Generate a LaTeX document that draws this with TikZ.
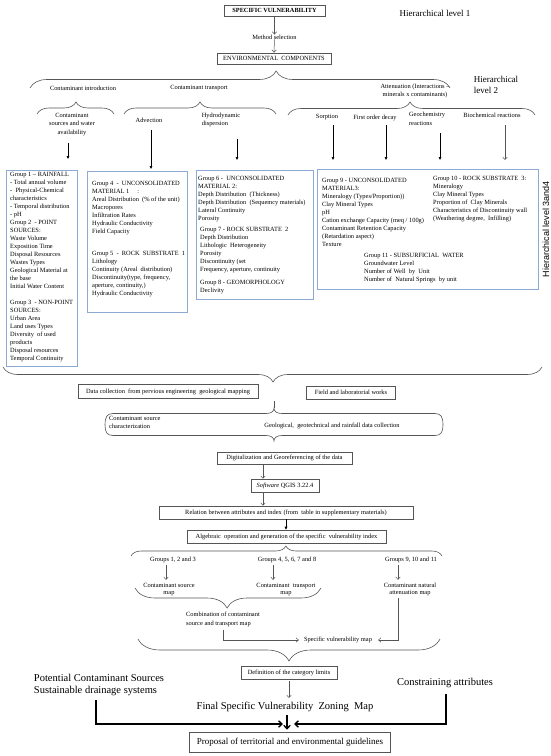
\documentclass[tikz,border=0pt]{standalone}
\usepackage{fontspec}
\setmainfont{Liberation Serif}
\newfontfamily\levelsans{Liberation Sans}
\usetikzlibrary{arrows.meta, positioning, decorations.pathreplacing}
\definecolor{grpblue}{RGB}{140,170,212}
\definecolor{edgegray}{RGB}{85,85,85}
\tikzset{box/.style={rectangle,draw=edgegray,line width=0.6pt,inner sep=0pt,align=center,font=\fontsize{6.4}{8}\selectfont},
grp/.style={rectangle,draw=grpblue,line width=0.9pt,anchor=north west,inner sep=0pt},
grptxt/.style={anchor=north west,inner sep=0pt,align=left,font=\fontsize{6.4}{8}\selectfont},
lbl/.style={inner sep=0pt,align=center,font=\fontsize{6.4}{8.5}\selectfont},
bigtxt/.style={inner sep=0pt,align=left,font=\fontsize{10.5}{12}\selectfont},
lvl/.style={inner sep=0pt,align=left,font=\fontsize{9}{10.5}\selectfont},
line/.style={-{Straight Barb[length=2.5pt,width=4.5pt]},line width=0.5pt,draw=edgegray},
fline/.style={-{Triangle[length=3pt,width=2.6pt]},line width=0.6pt},
tline/.style={-{Straight Barb[length=3.5pt,width=6.5pt]},line width=1.3pt},
brc/.style 2 args={decorate,decoration={brace,amplitude=#1,aspect=#2},draw=edgegray,line width=0.6pt},
brcdown/.style 2 args={decorate,decoration={brace,mirror,amplitude=#1,aspect=#2},draw=edgegray,line width=0.6pt}}

\begin{document}
\begin{tikzpicture}[x=1pt,y=-1pt]
\useasboundingbox (0,0) rectangle (550,756);
% level 1
\node[box,minimum width=101pt,minimum height=11pt,font=\fontsize{6.3}{8}\selectfont\bfseries] (sv) at (274.5,10.5) {SPECIFIC VULNERABILITY};
\node[lvl] (h1) at (435,13) {Hierarchical level 1};
\node[lbl] (ms) at (274.5,37) {Method selection};
\node[box,minimum width=114pt,minimum height=11pt] (ec) at (274,58.5) {ENVIRONMENTAL\ \ COMPONENTS};
\draw[line] (sv.south) -- (ms.north);
\draw[line] (ms.south) -- (ec.north);

% level 2
\draw[brc={17pt}{0.586}] (30,88) -- (450,88);
\node[lvl] (h2) at (496,85) {Hierarchical\\level 2};
\node[lbl] (ci) at (83,88) {Contaminant introduction};
\node[lbl] (ct) at (199,88) {Contaminant transport};
\node[lbl] (att) at (415,91) {Attenuation (Interactions –\\minerals x contaminants)};
\draw[brc={12pt}{0.506}] (37,114) -- (114,114);
\draw[brc={12pt}{0.5}] (124,114) -- (276,114);
\draw[brc={13pt}{0.494}] (288,115) -- (535,115);

% level 3 and 4
\node[lbl] (csw) at (72,124.5) {Contaminant\\sources and water\\availability};
\node[lbl] (adv) at (149,120) {Advection};
\node[lbl,align=left] (hyd) at (221,120) {Hydrodynamic\\dispersion};
\node[lbl] (sor) at (327,117) {Sorption};
\node[lbl] (fod) at (375,118) {First order decay};
\node[lbl,align=left] (geo) at (427,119) {Geochemistry\\reactions};
\node[lbl] (bio) at (492,115) {Biochemical reactions};

\node[grp,minimum width=71pt,minimum height=196pt] (g1) at (6,170) {};
\node[grp,minimum width=100pt,minimum height=141pt] (g4) at (87,171) {};
\node[grp,minimum width=117pt,minimum height=129pt] (g6) at (196,170) {};
\node[grp,minimum width=221pt,minimum height=120pt] (g9) at (317,169) {};
\node[lvl,rotate=90,font=\levelsans\fontsize{9}{10}\selectfont] (h34) at (546,229) {Hierarchical level 3and4};

\coordinate (a1) at (68,143);
\coordinate (a2) at (151,130);
\coordinate (a3) at (237,139);
\coordinate (a4) at (333,125);
\coordinate (a5) at (386,125);
\coordinate (a6) at (440,133);
\coordinate (a7) at (505,125);
\draw[fline,shorten >=11pt] (a1) -- (a1 |- g1.north);
\draw[fline,shorten >=2pt] (a2) -- (a2 |- g4.north);
\draw[fline,shorten >=10pt] (a3) -- (a3 |- g6.north);
\draw[fline,shorten >=9pt] (a4) -- (a4 |- g9.north);
\draw[fline,shorten >=9pt] (a5) -- (a5 |- g9.north);
\draw[fline,shorten >=9pt] (a6) -- (a6 |- g9.north);
\draw[line,shorten >=9pt] (a7) -- (a7 |- g9.north);

\node[grptxt] (g1t) at (10,172) {Group 1 – RAINFALL\\
- Total annual volume\\
-\ \ Physical-Chemical\\
characteristics\\
- Temporal distribution\\
- pH\\
Group 2\ \ - POINT\\
SOURCES:\\
Waste Volume\\
Exposition Time\\
Disposal Resources\\
Wastes Types\\
Geological Material at\\
the base\\
Initial Water Content\\[8pt]
Group 3\ \ - NON-POINT\\
SOURCES:\\
Urban Area\\
Land uses Types\\
Diversity\ \ of used\\
products\\
Disposal resources\\
Temporal Continuity};
\node[grptxt] (g4t) at (92,181) {Group 4\ \ -\ \ UNCONSOLIDATED\\
MATERIAL 1\hspace{8pt}:\\
Areal Distribution\ \ (\% of the unit)\\
Macropores\\
Infiltration Rates\\
Hydraulic Conductivity\\
Field Capacity\\[14pt]
Group 5\ \ -\ \ ROCK\ \ SUBSTRATE\ \ 1\\
Lithology\\
Continuity (Areal\ \ distribution)\\
Discontinuity(type, frequency,\\
aperture, continuity,)\\
Hydraulic Conductivity};
\node[grptxt] (g6t) at (198,176) {Group 6 -\ \ UNCONSOLIDATED\\
MATERIAL 2:\\
Depth Distribution\ \ (Thickness)\\
Depth Distribution\ \ (Sequemcy materials)\\
Lateral Continuity\\
Porosity\\[3pt]
\hspace*{2pt}Group 7 - ROCK SUBSTRATE\ \ 2\\
\hspace*{2pt}Depth Distribution\\
\hspace*{2pt}Lithologic\ \ Heterogeneity\\
\hspace*{2pt}Porosity\\
\hspace*{2pt}Discontinuity (set\\
\hspace*{2pt}Frequency, aperture, continuity\\[5pt]
\hspace*{2pt}Group 8 - GEOMORPHOLOGY\\
\hspace*{2pt}Declivity};
\node[grptxt] (g9t) at (322,178) {Group 9 - UNCONSOLIDATED\\
MATERIAL3:\\
Mineralogy (Types/Proportion))\\
Clay Mineral Types\\
pH\\
Cation exchange Capacity (meq / 100g)\\
Contaminant Retention Capacity\\
(Retardation aspect)\\
Texture};
\node[grptxt] (g10t) at (433,176) {Group 10 - ROCK SUBSTRATE\ \ 3:\\
Mineralogy\\
Clay Mineral Types\\
Proportion of\ \ Clay Minerals\\
Characteristics of Discontinuity wall\\
(Weathering degree,\ \ Infilling)};
\node[grptxt] (g11t) at (364,253) {Group 11 - SUBSURFICIAL\ \ WATER\\
Groundwater Level\\
Number of Well\ \ by\ \ Unit\\
Number of\ \ Natural Springs\ \ by unit};

% data collection
\draw[brcdown={15pt}{0.501}] (3,367) -- (542,367);
\node[box,minimum width=180pt,minimum height=13.5pt] (dc) at (168,391.5) {Data collection\ \ from pervious engineering\ \ geological mapping};
\node[box,minimum width=89pt,minimum height=13pt] (fw) at (351,392.5) {Field and laboratorial works};
\coordinate (dtop) at (274,401);
\coordinate (dtip) at (274,408);
\draw[edgegray,line width=0.6pt] (dtop) -- (dtip);
\draw[edgegray,line width=0.6pt] (105,425) .. controls (105,417) and (107,413.5) .. (113,413.5) -- (266,413.5) .. controls (271,413.5) and (274,411.5) .. (dtip) .. controls (274,411.5) and (277,413.5) .. (282,413.5) -- (435,413.5) .. controls (441,413.5) and (443,417) .. (443,425);
\draw[edgegray,line width=0.6pt] (105,425) .. controls (105,432) and (107,435.5) .. (113,435.5) -- (266,435.5) .. controls (271,435.5) and (274,437.5) .. (274,441) .. controls (274,437.5) and (277,435.5) .. (282,435.5) -- (435,435.5) .. controls (441,435.5) and (443,432) .. (443,425);
\node[lbl,align=left,anchor=north west] (csc) at (109,416) {Contaminant source\\characterization};
\node[lbl] (ggr) at (332,426) {Geological,\ \ geotechnical and rainfall data collection};

% processing
\node[box,minimum width=135pt,minimum height=12pt] (dg) at (284.5,458) {Digitalization and Georeferencing of the data};
\node[box,minimum width=68pt,minimum height=13pt] (sw) at (285,485.5) {\textit{Software} QGIS 3.22.4};
\node[box,minimum width=254pt,minimum height=13pt] (rel) at (286,512.5) {Relation between attributes and index (from\ \ table in supplementary materials)};
\node[box,minimum width=199pt,minimum height=13pt] (alg) at (286.5,536.5) {Algebraic\ \ operation and generation of the specific\ \ vulnerability index};
\draw[line] ([xshift=-21.5pt]dg.south) -- ([xshift=-22pt]sw.north);
\draw[line] ([xshift=-22pt]sw.south) -- ([xshift=-23pt]rel.north);
\draw[fline] (rel.south) -- (rel.south |- alg.north);

% maps
\draw[brc={10pt}{0.498}] (131,556) -- (442,556);
\node[lbl] (gr1) at (173,560) {Groups 1, 2 and 3};
\node[lbl] (gr2) at (287,560) {Groups 4, 5, 6, 7 and 8};
\node[lbl] (gr3) at (411,560) {Groups 9, 10 and 11};
\node[lbl,font=\fontsize{6.4}{7.2}\selectfont] (src) at (169,589.5) {Contaminant source\\map};
\node[lbl,font=\fontsize{6.4}{7.2}\selectfont] (trp) at (286,589.5) {Contaminant\ \ transport\\map};
\node[lbl,font=\fontsize{6.4}{7.2}\selectfont] (natt) at (410,589.5) {Contaminant natural\\attenuation map};
\draw[line,shorten <=2pt,shorten >=3pt] ([xshift=-7pt]gr1.south) -- ([xshift=-3pt]src.north);
\draw[line,shorten <=2pt,shorten >=3pt] ([xshift=-14pt]gr2.south) -- ([xshift=-13pt]trp.north);
\draw[line,shorten <=2pt,shorten >=3pt] ([xshift=-13pt]gr3.south) -- ([xshift=-12pt]natt.north);
\draw[brcdown={20pt}{0.495}] (135,588) -- (321,588);
\node[lbl,align=left,font=\fontsize{6.4}{9}\selectfont] (comb) at (223,619.5) {Combination of contaminant\\source and transport map};
\node[lbl] (svm) at (338,640) {Specific vulnerability map};
\draw[line,shorten <=3pt,shorten >=5pt] (comb.south) |- (svm.west);
\draw[line,shorten <=2pt,shorten >=6pt] ([xshift=-12pt]natt.south) |- (svm.east);
\draw[brcdown={22pt}{0.5}] (138,639) -- (440,639);

% final
\node[box,minimum width=96pt,minimum height=13pt] (dcl) at (289,672.5) {Definition of the category limits};
\node[bigtxt] (fm) at (285,707) {Final Specific Vulnerability\ \ Zoning\ \ Map};
\node[bigtxt] (pcs) at (99,685) {Potential Contaminant Sources\\Sustainable drainage systems};
\node[bigtxt] (cat) at (445,683) {Constraining attributes};
\node[box,minimum width=201pt,minimum height=20pt,font=\fontsize{9}{10}\selectfont] (pg) at (290,742) {Proposal of territorial and environmental guidelines};
\draw[line,shorten <=2pt,shorten >=4pt] (dcl.south) -- (dcl.south |- fm.north);
\coordinate (meet) at (289,724);
\draw[tline,shorten <=4pt] ([xshift=-3pt]pcs.south) |- ([xshift=-6pt]meet);
\draw[tline,shorten <=6pt] ([xshift=1pt]cat.south) |- ([xshift=5pt]meet);
\draw[tline,shorten <=3pt,shorten >=2pt] ([xshift=2pt]fm.south) -- ([xshift=-3pt]pg.north);
\end{tikzpicture}
\end{document}
